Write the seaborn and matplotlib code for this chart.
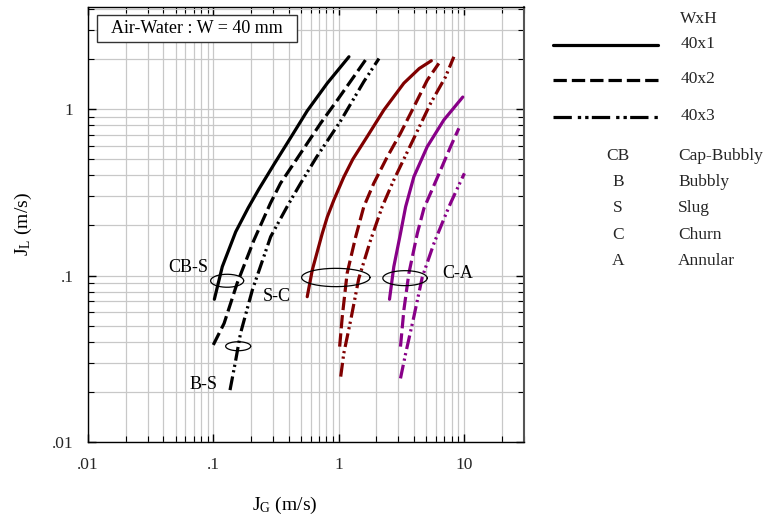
import numpy as np
import pandas as pd
import matplotlib
matplotlib.use("Agg")
import matplotlib.pyplot as plt
import seaborn as sns
from matplotlib.lines import Line2D
from matplotlib.patches import Rectangle
from matplotlib.ticker import LogLocator, FixedLocator, FixedFormatter, NullFormatter

# ---------------- data ----------------
# Transition boundaries, black = CB-S / B-S, dark red = S-C, purple = C-A
bs1_jg = [0.102, 0.118, 0.151, 0.19, 0.231, 0.305, 0.414, 0.562, 0.813, 1.21]
bs1_jl = [0.072, 0.113, 0.183, 0.255, 0.33, 0.465, 0.672, 0.975, 1.43, 2.06]
bs2_jg = [0.100, 0.122, 0.155, 0.211, 0.286, 0.344, 0.44, 0.562, 0.718, 0.976, 1.32, 1.64]
bs2_jl = [0.0383, 0.0516, 0.0898, 0.163, 0.272, 0.358, 0.472, 0.622, 0.82, 1.13, 1.56, 1.97]
bs3_jg = [0.136, 0.151, 0.165, 0.205, 0.287, 0.40, 0.50, 0.67, 1.04, 1.59, 2.10]
bs3_jl = [0.0205, 0.031, 0.045, 0.0818, 0.171, 0.27, 0.36, 0.517, 0.85, 1.46, 2.01]

sc1_jg = [0.562, 0.617, 0.741, 0.813, 0.917, 1.1, 1.3, 1.69, 2.30, 3.32, 4.4, 5.5]
sc1_jl = [0.0746, 0.108, 0.179, 0.225, 0.284, 0.39, 0.5, 0.682, 0.987, 1.43, 1.75, 1.95]
sc2_jg = [1.02, 1.07, 1.17, 1.37, 1.59, 1.91, 2.45, 3.12, 3.99, 5.1, 6.31]
sc2_jl = [0.0374, 0.0566, 0.103, 0.171, 0.259, 0.358, 0.517, 0.715, 1.03, 1.49, 1.88]
sc3_jg = [1.04, 1.10, 1.25, 1.45, 1.80, 2.23, 2.76, 3.76, 5.42, 7.14, 8.32]
sc3_jl = [0.0247, 0.034, 0.054, 0.096, 0.163, 0.259, 0.375, 0.608, 1.08, 1.56, 2.06]

ca1_jg = [2.55, 2.76, 3.12, 3.43, 3.99, 5.1, 6.92, 9.8]
ca1_jl = [0.072, 0.113, 0.179, 0.259, 0.392, 0.594, 0.859, 1.18]
ca2_jg = [3.12, 3.32, 3.64, 4.25, 4.80, 5.42, 6.52, 7.83, 9.12]
ca2_jl = [0.0374, 0.062, 0.103, 0.179, 0.253, 0.312, 0.43, 0.594, 0.766]
ca3_jg = [3.12, 3.43, 3.99, 4.66, 5.77, 7.14, 7.83, 9.3, 10.1]
ca3_jl = [0.0241, 0.034, 0.0566, 0.098, 0.156, 0.231, 0.272, 0.36, 0.411]

sizes = ["40x1", "40x2", "40x3"]
transitions = ["BS", "SC", "CA"]

# Ellipse markers (center JG, center JL, half-width / half-height in decades)
ell_jg = [0.129, 0.158, 0.95, 3.39]
ell_jl = [0.093, 0.0376, 0.0973, 0.0964]
ell_a = [0.132, 0.100, 0.273, 0.177]
ell_b = [0.039, 0.027, 0.055, 0.045]

lab_text = ["CB-S", "S-C", "B-S", "C-A"]
lab_jg = [0.0635, 0.32, 0.0837, 8.99]
lab_jl = [0.111, 0.0753, 0.0221, 0.1028]

abbr = ["CB", "B", "S", "C", "A"]
names = ["Cap-Bubbly", "Bubbly", "Slug", "Churn", "Annular"]

x_ticks = [0.01, 0.1, 1, 10]
x_ticklabels = [".01", ".1", "1", "10"]
y_ticks = [0.01, 0.1, 1]
y_ticklabels = [".01", ".1", "1"]

# ---------------- build table ----------------
curves = {
    ("BS", "40x1"): (bs1_jg, bs1_jl), ("BS", "40x2"): (bs2_jg, bs2_jl), ("BS", "40x3"): (bs3_jg, bs3_jl),
    ("SC", "40x1"): (sc1_jg, sc1_jl), ("SC", "40x2"): (sc2_jg, sc2_jl), ("SC", "40x3"): (sc3_jg, sc3_jl),
    ("CA", "40x1"): (ca1_jg, ca1_jl), ("CA", "40x2"): (ca2_jg, ca2_jl), ("CA", "40x3"): (ca3_jg, ca3_jl),
}
rows = []
for (tr, sz), (xs, ys) in curves.items():
    for i, (xv, yv) in enumerate(zip(xs, ys)):
        rows.append({"JG": xv, "JL": yv, "trans": tr, "size": sz, "order": i})
df = pd.DataFrame(rows)

# ---------------- style ----------------
sns.set_theme(style="white")
plt.rcParams["font.family"] = ["Liberation Serif", "DejaVu Serif"]
plt.rcParams["mathtext.fontset"] = "custom"
plt.rcParams["mathtext.rm"] = "Liberation Serif"
plt.rcParams["mathtext.it"] = "Liberation Serif:italic"
plt.rcParams["lines.scale_dashes"] = False

palette = {"BS": "#000000", "SC": "#800000", "CA": "#880088"}
dash_map = {"40x1": "", "40x2": (9.6, 3.6), "40x3": (10.0, 3.0, 1.6, 2.4, 1.6, 3.0)}

fig = plt.figure(figsize=(7.67, 5.18), dpi=100)
ax = fig.add_axes([88 / 767, 1 - 442 / 518, 436 / 767, 435 / 518])

sns.lineplot(data=df, x="JG", y="JL", hue="trans", style="size", palette=palette,
             dashes=dash_map, sort=False, estimator=None, legend=False,
             linewidth=2.3, ax=ax, zorder=3)

ax.set_xscale("log")
ax.set_yscale("log")
ax.set_xlim(0.01, 30.2)
ax.set_ylim(0.01, 4.1)

# grid (major + minor)
ax.xaxis.set_minor_locator(LogLocator(base=10, subs=np.arange(2, 10)))
ax.yaxis.set_minor_locator(LogLocator(base=10, subs=np.arange(2, 10)))
ax.xaxis.set_major_locator(FixedLocator(x_ticks))
ax.xaxis.set_major_formatter(FixedFormatter(x_ticklabels))
ax.yaxis.set_major_locator(FixedLocator(y_ticks))
ax.yaxis.set_major_formatter(FixedFormatter(y_ticklabels))
ax.xaxis.set_minor_formatter(NullFormatter())
ax.yaxis.set_minor_formatter(NullFormatter())
ax.grid(True, which="both", color="#c8c8c8", linewidth=0.9)
ax.set_axisbelow(True)

ax.tick_params(which="both", direction="in", top=True, right=True, bottom=True, left=True,
               color="black", labelsize=12.5, pad=10.5)
ax.tick_params(which="major", length=6, width=1)
ax.tick_params(which="minor", length=4, width=0.8)
for sp in ax.spines.values():
    sp.set_color("black")
    sp.set_linewidth(1.0)
ax.spines["right"].set_color("#555555")
ax.spines["right"].set_linewidth(1.5)

ax.set_xlabel(r"J$_{\mathrm{G}}$ (m/s)", fontsize=14, color="black")
ax.set_ylabel(r"J$_{\mathrm{L}}$ (m/s)", fontsize=14, color="black")
ax.xaxis.set_label_coords(0.452, -0.122)
ax.yaxis.set_label_coords(-0.125, 0.5)

# ellipses (drawn in log space)
t = np.linspace(0, 2 * np.pi, 200)
for cx, cy, a, b in zip(ell_jg, ell_jl, ell_a, ell_b):
    ex = 10 ** (np.log10(cx) + a * np.cos(t))
    ey = 10 ** (np.log10(cy) + b * np.sin(t))
    ax.plot(ex, ey, color="black", lw=0.9, zorder=4)

for s, xv, yv in zip(lab_text, lab_jg, lab_jl):
    ax.text(xv, yv, s, fontsize=13, ha="center", va="center", color="black", zorder=5)

# title box
ax.add_patch(Rectangle((0.020, 0.920), 0.459, 0.062, transform=ax.transAxes,
                       facecolor="white", edgecolor="#333333", lw=1.0, zorder=5))
ax.text(0.2495, 0.951, "Air-Water : W = 40 mm", transform=ax.transAxes, fontsize=13,
        ha="center", va="center", color="black", zorder=6)

# right-hand legend
def fx(px):
    return px / 767

def fy(py):
    return 1 - py / 518

fig.text(fx(699), fy(19), "WxH", fontsize=12.5, ha="center", va="center")
leg_y = [45, 80, 117]
leg_dash = [None, (9.6, 3.6), (13.2, 4.3, 2.4, 2.9, 2.4, 2.4)]
for sz, yy, dsh in zip(sizes, leg_y, leg_dash):
    ln = Line2D([fx(553), fx(658)], [fy(yy), fy(yy)], transform=fig.transFigure,
                color="black", lw=2.3)
    if dsh is not None:
        ln.set_dashes(dsh)
    fig.add_artist(ln)
    fig.text(fx(681), fy(yy - 1), sz, fontsize=12.5, ha="left", va="center")

row_y = [156, 182, 208, 235, 261]
for ab, nm, yy in zip(abbr, names, row_y):
    fig.text(fx(618), fy(yy), ab, fontsize=12.5, ha="center", va="center")
    fig.text(fx(678), fy(yy), nm, fontsize=12.5, ha="left", va="center")

fig.savefig("out.png", dpi=100)
